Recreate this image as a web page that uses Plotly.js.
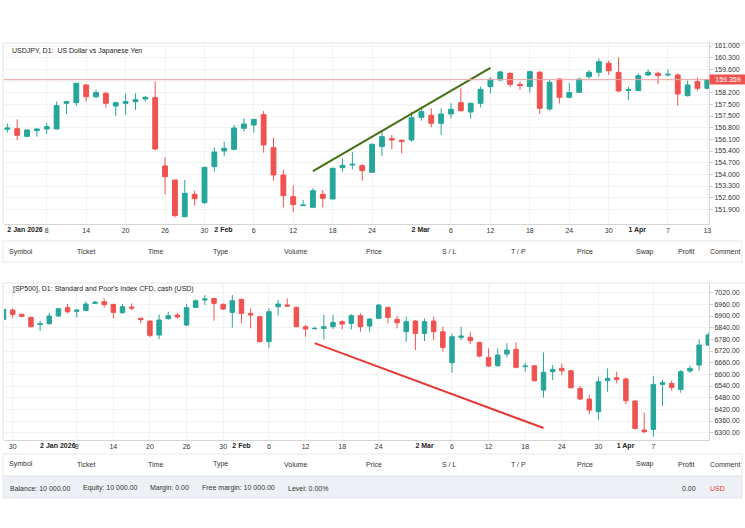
<!DOCTYPE html>
<html>
<head>
<meta charset="utf-8">
<script src="https://cdn.plot.ly/plotly-3.0.1.min.js"></script>
<style>
  html, body { margin: 0; padding: 0; background: #ffffff; }
  #chart { width: 745px; height: 528px; }
</style>
</head>
<body>
<div id="chart"></div>
<script>
// ---------- USDJPY, D1 ----------
const usdDates = [
  '2026-01-02',
  '2026-01-05','2026-01-06','2026-01-07','2026-01-08','2026-01-09',
  '2026-01-12','2026-01-13','2026-01-14','2026-01-15','2026-01-16',
  '2026-01-19','2026-01-20','2026-01-21','2026-01-22','2026-01-23',
  '2026-01-26','2026-01-27','2026-01-28','2026-01-29','2026-01-30',
  '2026-02-02','2026-02-03','2026-02-04','2026-02-05','2026-02-06',
  '2026-02-09','2026-02-10','2026-02-11','2026-02-12','2026-02-13',
  '2026-02-16','2026-02-17','2026-02-18','2026-02-19','2026-02-20',
  '2026-02-23','2026-02-24','2026-02-25','2026-02-26','2026-02-27',
  '2026-03-02','2026-03-03','2026-03-04','2026-03-05','2026-03-06',
  '2026-03-09','2026-03-10','2026-03-11','2026-03-12','2026-03-13',
  '2026-03-16','2026-03-17','2026-03-18','2026-03-19','2026-03-20',
  '2026-03-23','2026-03-24','2026-03-25','2026-03-26','2026-03-27',
  '2026-03-30','2026-03-31','2026-04-01','2026-04-02','2026-04-03',
  '2026-04-06','2026-04-07','2026-04-08','2026-04-09','2026-04-10',
  '2026-04-13'
];
const usdOpen = [
  156.38,156.42,155.96,156.30,156.40,156.40,157.94,157.98,159.04,158.34,
  158.54,157.78,157.94,158.04,158.20,158.28,154.18,153.34,151.14,152.48,
  151.98,154.14,155.08,155.18,156.44,156.64,157.26,155.28,153.64,152.34,
  151.80,151.70,152.48,152.20,154.08,154.24,154.20,153.80,155.34,155.82,
  155.72,155.74,157.10,157.22,156.74,157.30,157.98,157.42,157.94,158.94,
  159.34,159.74,159.08,158.94,159.80,157.60,159.40,158.30,158.60,159.54,
  159.80,160.34,159.80,158.72,158.70,159.64,159.74,159.64,159.64,158.40,
  159.24,158.84
];
const usdHigh = [
  156.74,156.98,156.38,156.44,156.74,158.04,158.10,159.18,159.08,158.74,
  158.64,158.04,158.54,158.54,158.38,159.24,154.70,153.34,153.34,152.70,
  154.14,155.30,155.64,156.64,157.04,157.00,157.48,155.88,153.94,153.00,
  152.14,152.84,152.74,154.08,154.64,155.04,154.30,155.54,156.30,156.04,
  155.78,157.44,157.74,157.64,157.64,157.94,158.84,157.98,158.94,159.50,
  159.90,159.80,159.24,159.90,159.90,159.34,159.44,159.18,159.44,159.94,
  160.64,160.50,160.70,158.94,159.74,159.98,159.84,159.98,159.74,159.30,
  159.50,159.38
];
const usdLow = [
  156.18,155.74,155.90,155.94,156.10,156.38,157.30,157.78,158.04,158.24,
  157.68,157.18,157.24,157.54,158.04,155.14,152.50,151.10,151.10,151.80,
  151.90,153.84,154.78,155.14,156.24,156.18,154.98,153.30,151.70,151.40,
  151.80,151.70,151.70,152.18,153.84,153.98,153.30,153.78,154.78,155.18,
  154.94,155.64,156.90,156.50,156.04,157.04,157.44,157.02,157.70,158.54,
  159.30,158.90,158.74,158.58,157.30,157.50,157.94,158.24,158.58,159.40,
  159.54,159.64,158.60,158.14,158.68,159.58,159.10,159.54,157.78,158.34,
  158.70,158.78
];
const usdClose = [
  156.46,156.02,156.34,156.40,156.54,157.80,158.04,159.14,158.34,158.58,
  157.94,157.98,158.04,158.16,158.30,155.20,153.54,151.20,152.54,152.22,
  154.10,155.02,155.24,156.46,156.70,156.98,155.44,153.64,152.40,151.86,
  151.84,152.70,152.24,154.04,154.22,154.28,153.90,155.48,155.94,155.74,
  155.66,157.08,157.44,156.74,157.30,157.58,157.50,157.94,158.78,159.38,
  159.82,159.08,159.00,159.84,157.64,159.20,158.30,158.58,159.40,159.80,
  160.44,159.90,158.68,158.76,159.60,159.80,159.60,159.68,158.50,159.04,
  158.84,159.359
];
const usdLast = 159.359;
const usdPriceTickVals = [161.379,160.679,159.979,159.279,158.579,157.879,157.179,
  156.479,155.779,155.079,154.379,153.679,152.979,152.279,151.579];
const usdPriceTickText = ['161.000','160.300','159.600','','158.200','157.500','157.500',
  '156.800','156.100','155.400','154.700','154.000','153.300','152.600','151.900'];
const usdDayTicks = ['2026-01-08','2026-01-14','2026-01-20','2026-01-26','2026-01-30',
  '2026-02-06','2026-02-12','2026-02-18','2026-02-24','2026-03-06','2026-03-12',
  '2026-03-18','2026-03-24','2026-03-30','2026-04-07','2026-04-13'];
const usdDayTickText = ['8','14','20','26','30','6','12','18','24','6','12','18','24','30','7','13'];
const usdMonthTicks = ['2026-01-02','2026-02-02','2026-03-02','2026-04-01'];
const usdMonthTickText = ['2 Jan 2026','2 Feb','2 Mar','1 Apr'];
const usdTrendDates = ['2026-02-16','2026-03-12'];
const usdTrendPrices = [153.87, 160.06];

// ---------- [SP500], D1 ----------
const spxDates = [
  '2025-12-29','2025-12-30','2025-12-31','2026-01-01','2026-01-02',
  '2026-01-05','2026-01-06','2026-01-07','2026-01-08','2026-01-09',
  '2026-01-12','2026-01-13','2026-01-14','2026-01-15','2026-01-16',
  '2026-01-19','2026-01-20','2026-01-21','2026-01-22','2026-01-23',
  '2026-01-26','2026-01-27','2026-01-28','2026-01-29','2026-01-30',
  '2026-02-02','2026-02-03','2026-02-04','2026-02-05','2026-02-06',
  '2026-02-09','2026-02-10','2026-02-11','2026-02-12','2026-02-13',
  '2026-02-16','2026-02-17','2026-02-18','2026-02-19','2026-02-20',
  '2026-02-23','2026-02-24','2026-02-25','2026-02-26','2026-02-27',
  '2026-03-02','2026-03-03','2026-03-04','2026-03-05','2026-03-06',
  '2026-03-09','2026-03-10','2026-03-11','2026-03-12','2026-03-13',
  '2026-03-16','2026-03-17','2026-03-18','2026-03-19','2026-03-20',
  '2026-03-23','2026-03-24','2026-03-25','2026-03-26','2026-03-27',
  '2026-03-30','2026-03-31','2026-04-01','2026-04-02','2026-04-03',
  '2026-04-06','2026-04-07','2026-04-08','2026-04-09','2026-04-10',
  '2026-04-13','2026-04-14','2026-04-15'
];
const spxOpen = [
  6882.8,6930.8,6908.5,6893.1,6857.1,6860.5,6899.9,6942.8,6924.0,6929.1,
  6965.1,6973.7,6960.0,6917.1,6946.2,6888.0,6874.2,6802.2,6886.3,6905.1,
  6853.7,6944.5,6982.3,6990.8,6960.0,6918.8,6985.7,6913.7,6896.5,6768.0,
  6948.0,6956.5,6944.5,6845.1,6834.8,6836.5,6845.1,6870.9,6862.2,6901.7,
  6848.5,6888.0,6944.5,6882.8,6819.4,6874.2,6810.8,6874.2,6819.4,6660.0,
  6790.3,6790.3,6764.5,6687.4,6644.5,6704.5,6728.5,6639.4,6644.5,6519.4,
  6613.7,6630.8,6618.8,6528.0,6473.1,6407.9,6567.4,6582.8,6576.0,6462.8,
  6313.7,6317.1,6548.5,6553.7,6522.8,6617.1,6648.0,6750.8
];
const spxHigh = [
  6939.4,6939.4,6913.7,6896.5,6876.0,6917.1,6941.1,6961.7,6934.3,6975.4,
  6978.8,6990.8,6961.7,6961.7,6965.1,6893.1,6876.0,6908.5,6922.2,6917.1,
  6961.7,6985.7,7007.9,6990.8,6965.1,7007.9,6985.7,6939.4,6896.5,6939.4,
  6982.3,6990.8,6948.0,6853.7,6845.1,6905.1,6906.8,6879.4,6910.2,6913.7,
  6888.0,6961.7,6948.0,6899.9,6896.5,6879.4,6888.0,6896.5,6845.1,6810.8,
  6845.1,6819.4,6768.0,6733.7,6733.7,6759.4,6764.5,6660.0,6648.0,6713.1,
  6648.0,6656.5,6622.2,6540.0,6493.7,6588.0,6630.8,6613.7,6584.5,6467.9,
  6402.8,6591.4,6570.8,6567.4,6622.2,6644.5,6780.0,6814.2
];
const spxLow = [
  6879.4,6888.0,6893.1,6842.8,6822.8,6857.1,6896.5,6913.7,6893.1,6927.4,
  6963.4,6944.5,6888.0,6912.0,6929.1,6862.2,6790.3,6781.7,6881.1,6888.0,
  6848.5,6944.5,6956.5,6876.0,6930.8,6840.0,6862.2,6836.5,6765.0,6737.1,
  6901.7,6948.0,6843.4,6793.7,6831.4,6780.0,6833.1,6831.4,6831.4,6819.4,
  6819.4,6884.5,6862.2,6836.5,6768.0,6725.1,6771.4,6776.5,6716.5,6608.5,
  6776.5,6756.0,6687.4,6639.4,6639.4,6687.4,6630.8,6613.7,6562.3,6480.0,
  6570.8,6596.5,6528.0,6467.9,6394.2,6365.1,6510.8,6553.7,6447.4,6317.1,
  6296.5,6279.4,6437.1,6516.0,6505.7,6608.5,6618.8,6747.4
];
const spxClose = [
  6934.3,6908.5,6898.2,6845.1,6860.5,6899.9,6937.7,6922.2,6930.8,6961.7,
  6970.3,6958.2,6918.8,6948.0,6941.1,6881.1,6800.5,6879.4,6901.7,6894.8,
  6942.8,6978.8,6987.4,6965.1,6936.0,6978.8,6913.7,6905.1,6768.0,6922.2,
  6961.7,6951.4,6845.1,6833.1,6836.5,6845.1,6867.4,6858.8,6901.7,6845.1,
  6884.5,6956.5,6893.1,6865.7,6870.9,6810.8,6870.9,6819.4,6738.8,6793.7,
  6797.1,6773.1,6694.3,6642.8,6699.4,6725.1,6636.0,6642.8,6567.4,6610.2,
  6625.7,6618.8,6531.4,6473.1,6416.5,6562.3,6579.4,6574.2,6464.5,6322.2,
  6305.1,6548.5,6557.1,6533.1,6613.7,6630.8,6750.8,6802.2
];
const spxPriceTicks = [7020,6960,6900,6840,6780,6720,6660,6600,6540,6480,6420,6360,6300];
const spxDayTicks = ['2025-12-30','2026-01-08','2026-01-14','2026-01-20','2026-01-26',
  '2026-01-30','2026-02-06','2026-02-12','2026-02-18','2026-02-24','2026-03-06',
  '2026-03-12','2026-03-18','2026-03-24','2026-03-30','2026-04-07'];
const spxDayTickText = ['30','8','14','20','26','30','6','12','18','24','6','12','18','24','30','7'];
const spxMonthTicks = ['2026-01-02','2026-02-02','2026-03-02','2026-04-01'];
const spxMonthTickText = ['2 Jan 2026','2 Feb','2 Mar','1 Apr'];
const spxTrendDates = ['2026-02-13','2026-03-20'];
const spxTrendPrices = [6760.8, 6324.2];

// ---------- trade table ----------
const tableHeaders = ['Symbol','Ticket','Time','Type','Volume','Price','S / L','T / P','Price','Swap','Profit','Comment'];
const accountItems = ['Balance: 10 000.00','Equity: 10 000.00','Margin: 0.00','Free margin: 10 000.00','Level: 0.00%'];
const accountProfit = '0.00';
const accountCurrency = 'USD';

// ---------- page geometry (pixels) ----------
const W = 745, H = 528;
const px = x => x / W;
const py = y => 1 - y / H;
const plotLeft = 4, plotRight = 709;
const headerCols = [7, 75, 146, 211, 282, 364, 440, 509, 575, 634, 676, 708];
const accountCols = [8, 81, 148, 200, 286];

const UP = '#26a69a', DOWN = '#ef5350';
const FONT = 'Liberation Sans, Arial, sans-serif';
const GRID = '#f3f3f3';

function candles(x, o, h, l, c, xa, ya) {
  return {
    type: 'candlestick', x: x, open: o, high: h, low: l, close: c,
    xaxis: xa, yaxis: ya, whiskerwidth: 0, hoverinfo: 'skip', showlegend: false,
    increasing: { line: { color: UP, width: 1 }, fillcolor: UP },
    decreasing: { line: { color: DOWN, width: 1 }, fillcolor: DOWN }
  };
}
// transparent carrier so the month-label axis gets drawn on the same panel
function monthCarrier(dates, list, xa, ya, yv) {
  return {
    type: 'scatter', mode: 'markers', x: list.map(d => dates.indexOf(d)),
    y: list.map(() => yv), xaxis: xa, yaxis: ya,
    marker: { opacity: 0, size: 1 }, hoverinfo: 'skip', showlegend: false
  };
}

const traces = [
  candles(usdDates, usdOpen, usdHigh, usdLow, usdClose, 'x', 'y'),
  { type: 'scatter', mode: 'lines', x: usdTrendDates, y: usdTrendPrices, xaxis: 'x', yaxis: 'y',
    line: { color: '#456f12', width: 2 }, hoverinfo: 'skip', showlegend: false },
  candles(spxDates, spxOpen, spxHigh, spxLow, spxClose, 'x2', 'y2'),
  { type: 'scatter', mode: 'lines', x: spxTrendDates, y: spxTrendPrices, xaxis: 'x2', yaxis: 'y2',
    line: { color: '#e53935', width: 2 }, hoverinfo: 'skip', showlegend: false },
  monthCarrier(usdDates, usdMonthTicks, 'x3', 'y', usdLast),
  monthCarrier(spxDates, spxMonthTicks, 'x4', 'y2', spxPriceTicks[0])
];

const usdRange = [-0.335, 71.17];
const spxRange = [0.055, 77.08];

function dayAxis(anchor, range, vals, text) {
  return {
    domain: [px(plotLeft), px(plotRight)], anchor: anchor, type: 'category',
    range: range, tickmode: 'array', tickvals: vals, ticktext: text,
    tickangle: 0, ticks: '', showgrid: true, gridcolor: GRID, gridwidth: 1,
    showline: true, linecolor: '#d4d4d4', linewidth: 1, zeroline: false,
    tickfont: { family: FONT, size: 7, color: '#333' },
    rangeslider: { visible: false }, fixedrange: true, automargin: false
  };
}
function monthAxis(over, anchor, range, dates, list, text) {
  return {
    overlaying: over, anchor: anchor, type: 'linear', range: range,
    tickmode: 'array', tickvals: list.map(d => dates.indexOf(d)),
    ticktext: text.map(t => '<b>' + t + '</b>'),
    ticklabelposition: 'outside right', ticks: '', showgrid: false,
    showline: false, zeroline: false, fixedrange: true, automargin: false,
    tickfont: { family: FONT, size: 7, color: '#222' }
  };
}
function priceAxis(anchor, top, bottom, range, vals, text) {
  return {
    domain: [py(bottom), py(top)], anchor: anchor, side: 'right', range: range,
    tickmode: 'array', tickvals: vals, ticktext: text,
    ticks: 'outside', ticklen: 3, tickcolor: '#cfcfcf',
    showgrid: true, gridcolor: GRID, showline: true, linecolor: '#d4d4d4',
    zeroline: false, fixedrange: true, automargin: false,
    tickfont: { family: FONT, size: 7, color: '#333' }
  };
}

const annotations = [];
function label(x, y, text, opts) {
  annotations.push(Object.assign({
    xref: 'paper', yref: 'paper', x: px(x), y: py(y), text: text,
    xanchor: 'left', yanchor: 'middle', showarrow: false,
    font: { family: FONT, size: 7, color: '#333' }
  }, opts || {}));
}

label(10, 51, 'USDJPY, D1:&nbsp; US Dollar vs Japanese Yen', { font: { family: FONT, size: 7, color: '#222' } });
label(11, 289, "[SP500], D1: Standard and Poor's Index CFD, cash (USD)", { font: { family: FONT, size: 7, color: '#222' } });
tableHeaders.forEach((t, i) => { label(headerCols[i], 251.7, t); label(headerCols[i], 464.3, t); });
accountItems.forEach((t, i) => label(accountCols[i], 488, t));
label(680, 488, accountProfit);
label(708, 488, accountCurrency, { font: { family: FONT, size: 7, color: '#e53935' } });

// last price tag on the right price scale
annotations.push({
  xref: 'paper', yref: 'y', x: px(plotRight), y: usdLast, text: usdLast.toFixed(3),
  xanchor: 'left', yanchor: 'middle', showarrow: false, width: 34, align: 'center',
  bgcolor: '#ef5350', borderpad: 1,
  font: { family: FONT, size: 7, color: '#ffffff' }
});

const line = (x0, y0, x1, y1, color) => ({
  type: 'line', xref: 'paper', yref: 'paper', x0: px(x0), y0: py(y0), x1: px(x1), y1: py(y1),
  line: { color: color, width: 1 }, layer: 'below'
});
const rect = (x0, y0, x1, y1, fill, color) => ({
  type: 'rect', xref: 'paper', yref: 'paper', x0: px(x0), y0: py(y0), x1: px(x1), y1: py(y1),
  fillcolor: fill, line: { color: color, width: 1 }, layer: 'below'
});

const shapes = [
  line(3, 43, 745, 43, '#e4e4e4'), line(3, 43, 3, 224, '#e4e4e4'),
  line(3, 283, 745, 283, '#e4e4e4'), line(3, 283, 3, 440, '#e4e4e4'),
  rect(3, 241, 742, 262, 'rgba(0,0,0,0)', '#e8e8e8'),
  rect(3, 454, 742, 476, 'rgba(0,0,0,0)', '#e8e8e8'),
  rect(3, 476, 742, 498, '#edf1f6', '#e2e6eb'),
  { type: 'line', xref: 'paper', yref: 'y', x0: px(plotLeft), x1: px(plotRight),
    y0: usdLast, y1: usdLast, line: { color: '#f3a29e', width: 1 } }
];

const layout = {
  width: W, height: H, margin: { l: 0, r: 0, t: 0, b: 0 },
  paper_bgcolor: '#ffffff', plot_bgcolor: '#ffffff',
  font: { family: FONT, size: 7, color: '#333' },
  showlegend: false, dragmode: false, hovermode: false,
  xaxis: dayAxis('y', usdRange, usdDayTicks, usdDayTickText),
  xaxis2: dayAxis('y2', spxRange, spxDayTicks, spxDayTickText),
  xaxis3: monthAxis('x', 'y', usdRange, usdDates, usdMonthTicks, usdMonthTickText),
  xaxis4: monthAxis('x2', 'y2', spxRange, spxDates, spxMonthTicks, spxMonthTickText),
  yaxis: priceAxis('x', 43, 224, [150.699, 161.559], usdPriceTickVals, usdPriceTickText),
  yaxis2: priceAxis('x2', 283, 440, [6262.5, 7069.9], spxPriceTicks, spxPriceTicks.map(v => v.toFixed(2))),
  annotations: annotations,
  shapes: shapes
};

Plotly.newPlot('chart', traces, layout, { staticPlot: true, displayModeBar: false });
</script>
</body>
</html>
